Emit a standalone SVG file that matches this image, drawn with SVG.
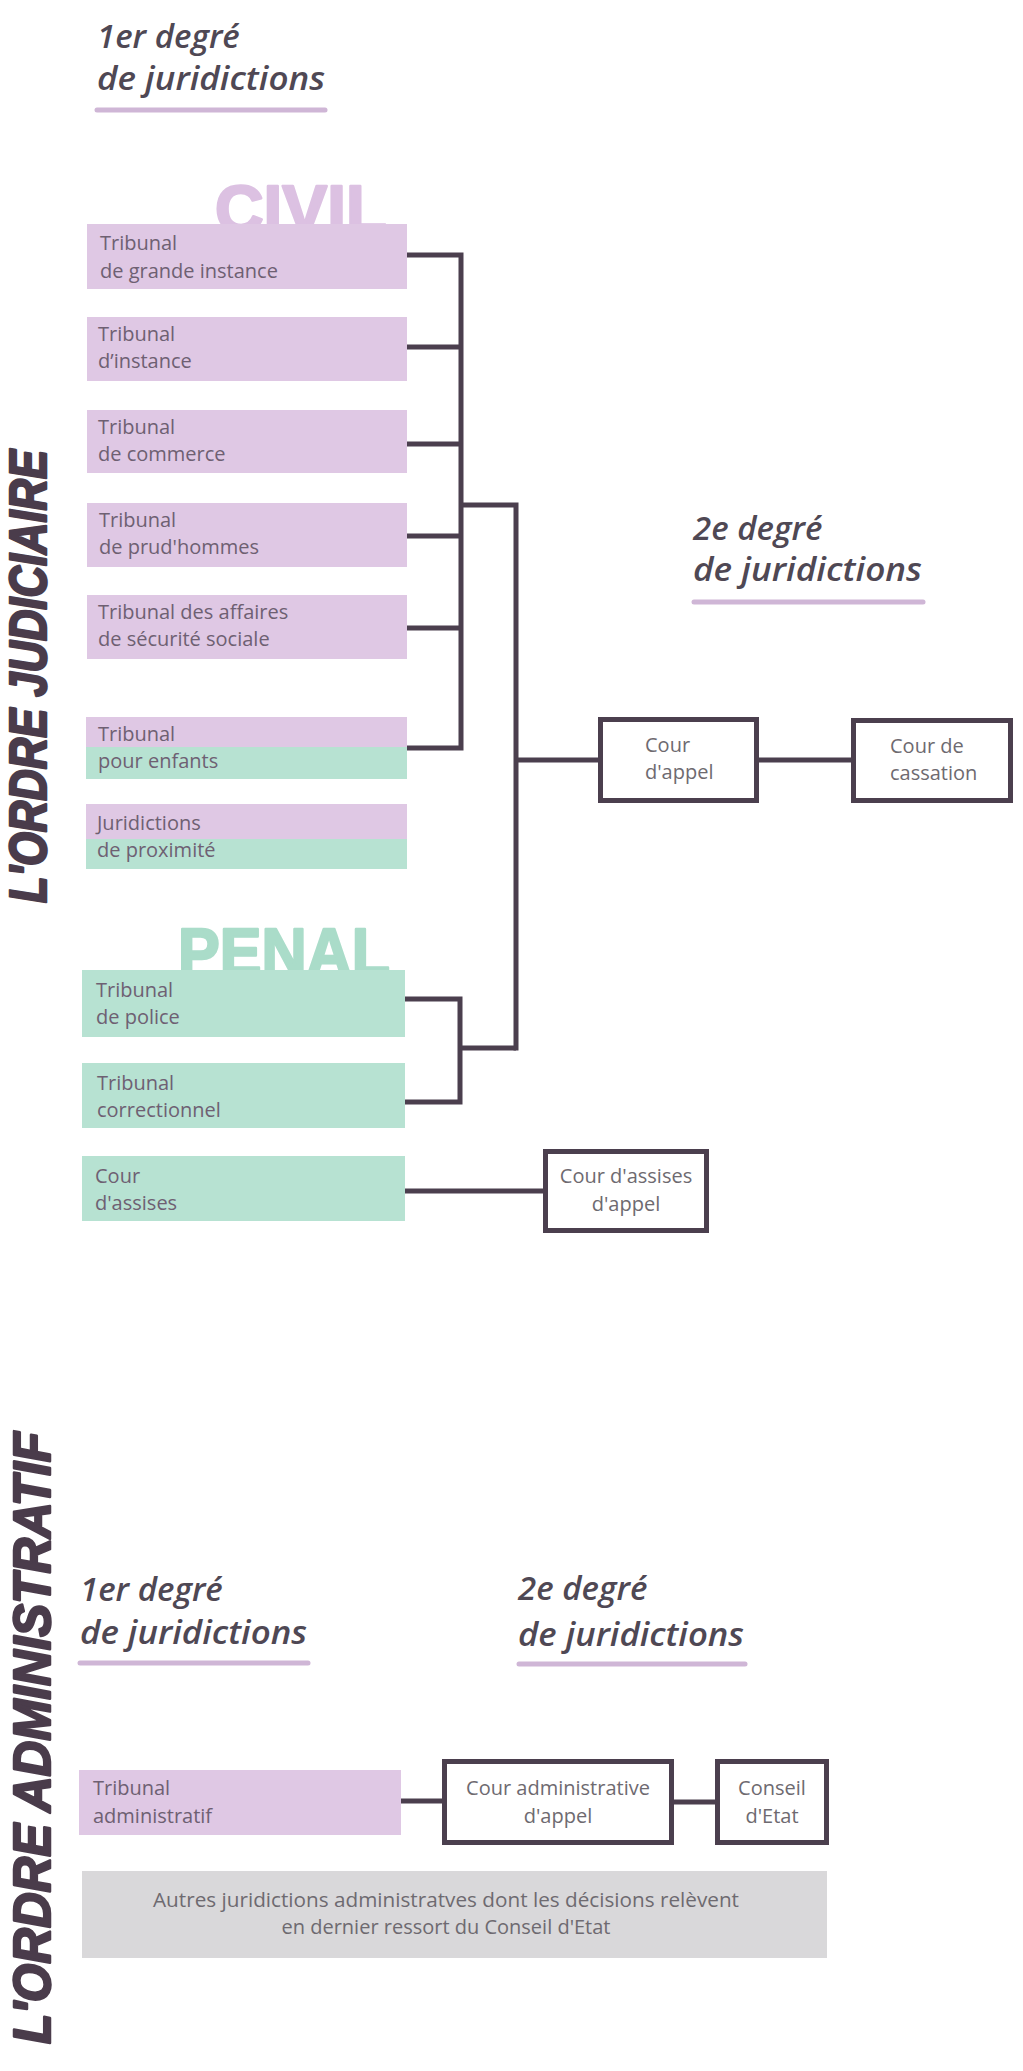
<svg xmlns="http://www.w3.org/2000/svg" width="1023" height="2071" viewBox="0 0 1023 2071">
<style>
.bg{fill:#ffffff}
.pur{fill:#dfc8e4}
.grn{fill:#b7e2d2}
.gry{fill:#d9d8da}
.bt{font-family:"Open Sans","Liberation Sans",sans-serif;font-size:20px;fill:#6e6072}
.bc{font-family:"Open Sans","Liberation Sans",sans-serif;font-size:20px;fill:#6e6a70}
.hd{font-family:"Open Sans","Liberation Sans",sans-serif;font-size:33px;font-weight:600;font-style:italic;fill:#4f4854}
.ul{stroke:#cfb6d6;stroke-width:5;stroke-linecap:round;fill:none}
.big{font-family:"Liberation Sans",Arial,sans-serif;font-weight:bold;font-size:66px;stroke-width:2.5;stroke-linejoin:round}
.side{font-family:"Liberation Sans",Arial,sans-serif;font-weight:bold;font-style:italic;font-size:52px;fill:#4a3c4b;stroke:#4a3c4b;stroke-width:2.5;stroke-linejoin:round}
.cn{stroke:#4b3f4e;stroke-width:5;fill:none;stroke-linejoin:miter}
.box{fill:#ffffff;stroke:#4b3f4e;stroke-width:5}
</style>
<rect class="bg" x="0" y="0" width="1023" height="2071"/>

<!-- side titles -->
<g id="title-judiciaire">
<text class="side" transform="translate(46,903) rotate(-90)" x="0" y="0" textLength="453" lengthAdjust="spacingAndGlyphs">L'ORDRE JUDICIAIRE</text>
</g>
<g id="title-administratif">
<text class="side" transform="translate(50,2044) rotate(-90)" x="0" y="0" textLength="612" lengthAdjust="spacingAndGlyphs">L'ORDRE ADMINISTRATIF</text>
</g>

<!-- headings -->
<g id="head-j1">
<text class="hd" x="97" y="48">1er degré</text>
<text class="hd" x="97" y="90" textLength="228" lengthAdjust="spacingAndGlyphs">de juridictions</text>
<line class="ul" x1="97" y1="110" x2="325" y2="110"/>
</g>
<g id="head-j2">
<text class="hd" x="693" y="540">2e degré</text>
<text class="hd" x="693" y="581" textLength="229" lengthAdjust="spacingAndGlyphs">de juridictions</text>
<line class="ul" x1="694" y1="602" x2="923" y2="602"/>
</g>
<g id="head-a1">
<text class="hd" x="80" y="1601">1er degré</text>
<text class="hd" x="80" y="1644" textLength="227" lengthAdjust="spacingAndGlyphs">de juridictions</text>
<line class="ul" x1="80" y1="1663" x2="308" y2="1663"/>
</g>
<g id="head-a2">
<text class="hd" x="518" y="1600">2e degré</text>
<text class="hd" x="518" y="1646" textLength="226" lengthAdjust="spacingAndGlyphs">de juridictions</text>
<line class="ul" x1="519" y1="1664" x2="745" y2="1664"/>
</g>

<!-- section labels -->
<g id="label-civil">
<text class="big" x="215" y="232" fill="#dcc1e2" stroke="#dcc1e2" textLength="172" lengthAdjust="spacingAndGlyphs">CIVIL</text>
</g>
<g id="label-penal">
<text class="big" x="178" y="975" fill="#aadcc9" stroke="#aadcc9" textLength="212" lengthAdjust="spacingAndGlyphs">PENAL</text>
</g>

<!-- connectors -->
<g id="connectors">
<path class="cn" d="M407 255 H461 M407 347 H461 M407 444 H461 M407 536 H461 M407 628 H461 M407 748 H461 M461 252.5 V750.5"/>
<path class="cn" d="M461 505 H516 M516 502.5 V1050.5 M516 760 H598 M759 760 H851"/>
<path class="cn" d="M405 999 H460 M405 1102 H460 M460 996.5 V1104.5 M460 1048 H516"/>
<path class="cn" d="M405 1191 H543"/>
<path class="cn" d="M401 1801 H442 M674 1802 H715"/>
</g>

<!-- civil nodes -->
<g id="n-tgi">
<rect class="pur" x="87" y="224" width="320" height="65"/>
<text class="bt" x="100" y="250">Tribunal</text>
<text class="bt" x="100" y="278">de grande instance</text>
</g>
<g id="n-ti">
<rect class="pur" x="87" y="317" width="320" height="64"/>
<text class="bt" x="98" y="341">Tribunal</text>
<text class="bt" x="98" y="368">d’instance</text>
</g>
<g id="n-tc">
<rect class="pur" x="87" y="410" width="320" height="63"/>
<text class="bt" x="98" y="434">Tribunal</text>
<text class="bt" x="98" y="461">de commerce</text>
</g>
<g id="n-prud">
<rect class="pur" x="87" y="503" width="320" height="64"/>
<text class="bt" x="99" y="527">Tribunal</text>
<text class="bt" x="99" y="554">de prud'hommes</text>
</g>
<g id="n-tass">
<rect class="pur" x="87" y="595" width="320" height="64"/>
<text class="bt" x="98" y="619">Tribunal des affaires</text>
<text class="bt" x="98" y="646">de sécurité sociale</text>
</g>
<g id="n-enfants">
<rect class="pur" x="86" y="717" width="321" height="31"/>
<rect class="grn" x="86" y="747" width="321" height="32"/>
<text class="bt" x="98" y="741">Tribunal</text>
<text class="bt" x="98" y="768">pour enfants</text>
</g>
<g id="n-prox">
<rect class="pur" x="86" y="804" width="321" height="36"/>
<rect class="grn" x="86" y="839" width="321" height="30"/>
<text class="bt" x="97" y="830">Juridictions</text>
<text class="bt" x="97" y="857">de proximité</text>
</g>

<!-- penal nodes -->
<g id="n-police">
<rect class="grn" x="82" y="970" width="323" height="67"/>
<text class="bt" x="96" y="997">Tribunal</text>
<text class="bt" x="96" y="1024">de police</text>
</g>
<g id="n-correc">
<rect class="grn" x="82" y="1063" width="323" height="65"/>
<text class="bt" x="97" y="1090">Tribunal</text>
<text class="bt" x="97" y="1117">correctionnel</text>
</g>
<g id="n-assises">
<rect class="grn" x="82" y="1156" width="323" height="65"/>
<text class="bt" x="95" y="1183">Cour</text>
<text class="bt" x="95" y="1210">d'assises</text>
</g>

<!-- second degree judiciaire -->
<g id="n-appel">
<rect class="box" x="600.5" y="719.5" width="156" height="81"/>
<text class="bc" x="645" y="752">Cour</text>
<text class="bc" x="645" y="779">d'appel</text>
</g>
<g id="n-cassation">
<rect class="box" x="853.5" y="720.5" width="157" height="80"/>
<text class="bc" x="890" y="753">Cour de</text>
<text class="bc" x="890" y="780">cassation</text>
</g>
<g id="n-assises-appel">
<rect class="box" x="545.5" y="1151.5" width="161" height="79"/>
<text class="bc" x="626" y="1183" text-anchor="middle">Cour d'assises</text>
<text class="bc" x="626" y="1211" text-anchor="middle">d'appel</text>
</g>

<!-- administratif -->
<g id="n-ta">
<rect class="pur" x="79" y="1770" width="322" height="65"/>
<text class="bt" x="93" y="1795">Tribunal</text>
<text class="bt" x="93" y="1823">administratif</text>
</g>
<g id="n-caa">
<rect class="box" x="444.5" y="1761.5" width="227" height="81"/>
<text class="bc" x="558" y="1795" text-anchor="middle">Cour administrative</text>
<text class="bc" x="558" y="1823" text-anchor="middle">d'appel</text>
</g>
<g id="n-ce">
<rect class="box" x="717.5" y="1761.5" width="109" height="81"/>
<text class="bc" x="772" y="1795" text-anchor="middle">Conseil</text>
<text class="bc" x="772" y="1823" text-anchor="middle">d'Etat</text>
</g>
<g id="n-autres">
<rect class="gry" x="82" y="1871" width="745" height="87"/>
<text class="bc" x="446" y="1907" text-anchor="middle" textLength="586" lengthAdjust="spacingAndGlyphs">Autres juridictions administratves dont les décisions relèvent</text>
<text class="bc" x="446" y="1934" text-anchor="middle">en dernier ressort du Conseil d'Etat</text>
</g>
</svg>
